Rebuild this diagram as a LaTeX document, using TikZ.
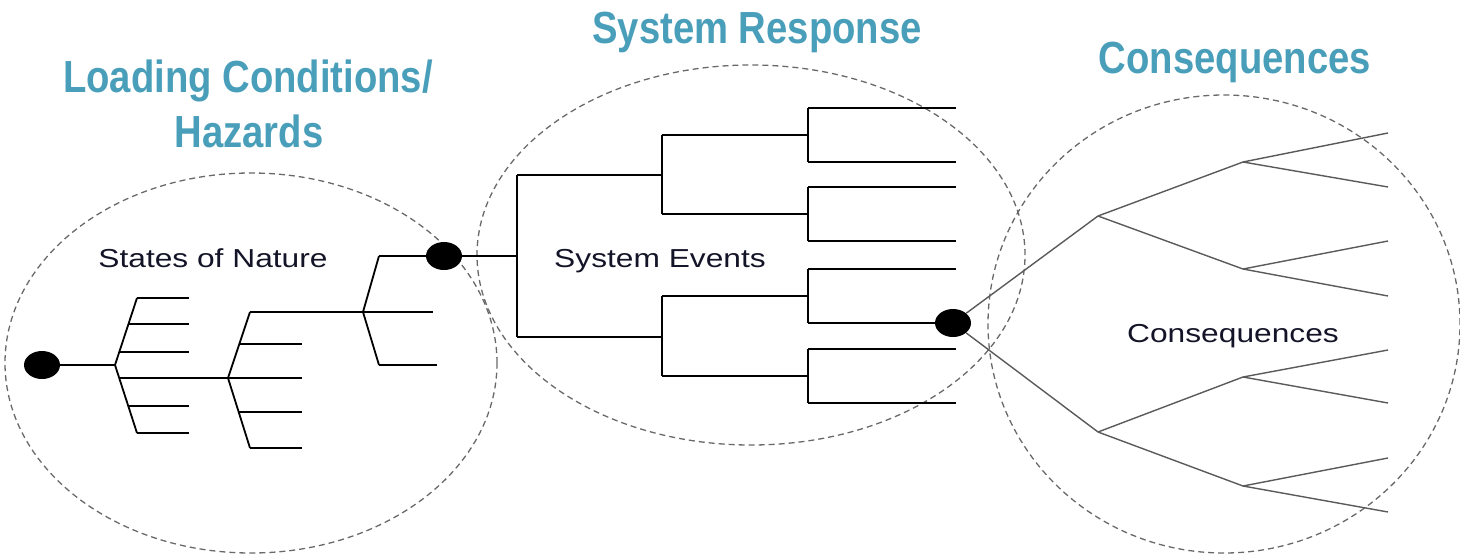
\documentclass[tikz,border=0pt]{standalone}
\usepackage{fontspec}
\setmainfont{Liberation Sans}
\newfontfamily\titlefont[FakeStretch=0.85]{Liberation Sans Bold}
\newfontfamily\labelfont[FakeStretch=1.22]{Liberation Sans}
\usetikzlibrary{shapes.geometric}
\definecolor{titlecol}{RGB}{73,158,186}
\definecolor{labelcol}{RGB}{20,20,40}
\definecolor{zonecol}{RGB}{105,105,105}
\definecolor{ctreecol}{RGB}{90,90,90}
\begin{document}
\begin{tikzpicture}[x=1pt,y=-1pt,
  ttl/.style={font=\titlefont\fontsize{45}{54}\selectfont, text=titlecol, inner sep=0pt, anchor=base},
  lbl/.style={font=\labelfont\fontsize{26}{30}\selectfont, text=labelcol, inner sep=0pt, anchor=base},
  zone/.style={draw=zonecol, line width=1.3pt, dash pattern=on 6pt off 4pt},
  tree/.style={draw=black, line width=1.8pt},
  ctree/.style={draw=ctreecol, line width=1.4pt},
  dot/.style={ellipse, fill=black, minimum width=36pt, minimum height=28pt, inner sep=0pt}]
\useasboundingbox (0,0) rectangle (1460,555);

% zones
\draw[zone] (251,363) ellipse [x radius=246pt, y radius=190pt];
\draw[zone] (751,255) ellipse [x radius=274pt, y radius=190pt];
\draw[zone] (1224,324) ellipse [x radius=236pt, y radius=229pt];

% titles
\node[ttl] (t1) at (248,92) {Loading Conditions/};
\node[ttl] (t2) at (249,147) {Hazards};
\node[ttl] (t3) at (757,43) {System Response};
\node[ttl] (t4) at (1235,73) {Consequences};

% labels
\node[lbl] (l1) at (213,267) {States of Nature};
\node[lbl] (l2) at (660,267) {System Events};
\node[lbl] (l3) at (1233,342) {Consequences};

% dots
\node[dot] (d1) at (42,365) {};
\node[dot] (d2) at (444,256) {};
\node[dot] (d3) at (953,323) {};

% ---- states of nature tree
\coordinate (a1) at (115,365);
\coordinate (a2) at (228,378);
\coordinate (a3) at (363,312);
\draw[tree] (d1) -- (a1);
% fan 1
\foreach \n/\xs/\y in {1/137/298,2/128.5/324,3/119.3/352,5/128.3/406,6/137/433}{
  \coordinate (f1s\n) at (\xs,\y);
  \coordinate (f1e\n) at (189,\y);
  \draw[tree] (f1s\n) -- (f1e\n);
}
\coordinate (f1s4) at (119.2,378);
\draw[tree] (f1s1) -- (a1) -- (f1s6);
\draw[tree] (f1s4) -- (a2);
% fan 2
\foreach \n/\xs/\y in {2/239/344,4/238.7/412,5/250/448}{
  \coordinate (f2s\n) at (\xs,\y);
  \coordinate (f2e\n) at (302,\y);
  \draw[tree] (f2s\n) -- (f2e\n);
}
\coordinate (f2s1) at (250,312);
\coordinate (f2e3) at (302,378);
\draw[tree] (f2s1) -- (a2) -- (f2s5);
\draw[tree] (a2) -- (f2e3);
\draw[tree] (f2s1) -- (a3);
% fan 3
\coordinate (f3s1) at (379,256);
\coordinate (f3s3) at (379,365);
\coordinate (f3e2) at (433,312);
\coordinate (f3e3) at (437,365);
\draw[tree] (f3s1) -- (a3) -- (f3s3);
\draw[tree] (a3) -- (f3e2);
\draw[tree] (f3s3) -- (f3e3);
\draw[tree] (f3s1) -- (d2);

% ---- system events tree
\coordinate (b0) at (517,256);
\coordinate (bt) at (517,175);
\coordinate (bb) at (517,337);
\draw[tree] (d2) -- (b0);
\draw[tree] (bt) -- (bb);
\coordinate (c1) at (662,175);
\coordinate (c2) at (662,337);
\draw[tree] (bt) -- (c1);
\draw[tree] (bb) -- (c2);
\foreach \n/\ya/\yb in {1/135/214,2/296/376}{
  \coordinate (c\n t) at (662,\ya);
  \coordinate (c\n b) at (662,\yb);
  \coordinate (k\n t) at (808,\ya);
  \coordinate (k\n b) at (808,\yb);
  \draw[tree] (c\n t) -- (c\n b);
  \draw[tree] (c\n t) -- (k\n t);
  \draw[tree] (c\n b) -- (k\n b);
}
\foreach \n/\ya/\yb in {1/108/162,2/187/241,3/269/323,4/349/403}{
  \coordinate (m\n t) at (808,\ya);
  \coordinate (m\n b) at (808,\yb);
  \coordinate (e\n t) at (956,\ya);
  \coordinate (e\n b) at (956,\yb);
  \draw[tree] (m\n t) -- (m\n b);
  \draw[tree] (m\n t) -- (e\n t);
}
\foreach \n in {1,2,4}{\draw[tree] (m\n b) -- (e\n b);}
\draw[tree] (m3b) -- (d3);

% ---- consequences tree
\coordinate (p1) at (1098,216);
\coordinate (p2) at (1098,432);
\coordinate (g1) at (1243,162);
\coordinate (g2) at (1243,269);
\coordinate (g3) at (1243,377);
\coordinate (g4) at (1243,486);
\draw[ctree] (d3) -- (p1);
\draw[ctree] (d3) -- (p2);
\draw[ctree] (p1) -- (g1);
\draw[ctree] (p1) -- (g2);
\draw[ctree] (p2) -- (g3);
\draw[ctree] (p2) -- (g4);
\foreach \g/\ya/\yb in {1/133/187,2/241/296,3/350/403,4/458/512}{
  \coordinate (h\g a) at (1388,\ya);
  \coordinate (h\g b) at (1388,\yb);
  \draw[ctree] (g\g) -- (h\g a);
  \draw[ctree] (g\g) -- (h\g b);
}
\end{tikzpicture}
\end{document}
